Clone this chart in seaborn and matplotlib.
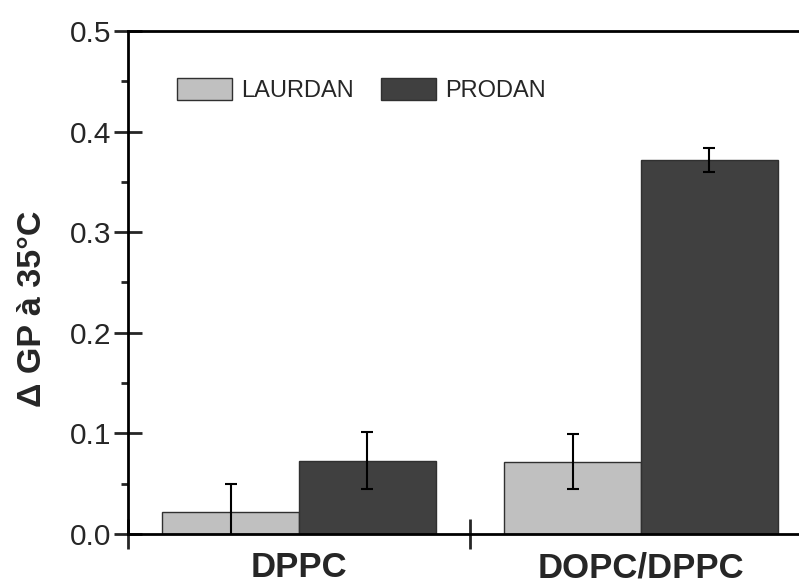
import matplotlib
matplotlib.use("Agg")
import matplotlib.pyplot as plt
import seaborn as sns
import pandas as pd
import numpy as np
from matplotlib.ticker import MultipleLocator

categories = ["DPPC", "DOPC/DPPC"]
probes = ["LAURDAN", "PRODAN"]
laurdan_vals = [0.022, 0.072]
laurdan_err = [0.028, 0.027]
prodan_vals = [0.073, 0.372]
prodan_err = [0.028, 0.012]

sns.set_theme(style="ticks")
plt.rcParams['font.family'] = ['Liberation Sans', 'DejaVu Sans']

df = pd.DataFrame({
    "cat": categories * 2,
    "probe": [probes[0]] * 2 + [probes[1]] * 2,
    "val": laurdan_vals + prodan_vals,
})
errs = laurdan_err + prodan_err

fig = plt.figure(figsize=(7.99, 5.83), dpi=100)
ax = fig.add_axes([128 / 799, 1 - 534 / 583, 684 / 799, 503 / 583])

sns.barplot(data=df, x="cat", y="val", hue="probe", order=categories,
            hue_order=probes, palette={"LAURDAN": "#c0c0c0", "PRODAN": "#404040"},
            width=0.8, errorbar=None, edgecolor="#303030", linewidth=1.0,
            saturation=1, ax=ax)

# error bars at bar centres (patches in hue order, then category order)
bars = list(ax.patches)[:4]
for p, v, e in zip(bars, df["val"], errs):
    cx = p.get_x() + p.get_width() / 2
    ax.errorbar(cx, v, yerr=e, fmt="none", ecolor="black", elinewidth=1.5,
                capsize=4.5, capthick=1.5, zorder=5, clip_on=True)

ax.set_xlim(-0.5, 1.5)
ax.set_ylim(0, 0.5)
ax.yaxis.set_minor_locator(MultipleLocator(0.05))
ax.set_yticks([0.0, 0.1, 0.2, 0.3, 0.4, 0.5])
ax.set_yticklabels(["0.0", "0.1", "0.2", "0.3", "0.4", "0.5"])

ax.set_xticks([0, 1])
ax.set_xticklabels(categories, fontsize=25, fontweight="bold")
ax.set_xticks([-0.5, 0.5, 1.5], minor=True)
ax.tick_params(axis="x", which="major", length=0, pad=12.5)
ax.tick_params(axis="x", which="minor", direction="inout", length=22, width=2)
ax.tick_params(axis="y", which="major", direction="inout", length=20, width=2,
               labelsize=21.5, pad=2)
ax.tick_params(axis="y", which="minor", direction="out", length=5, width=2)

for s in ax.spines.values():
    s.set_linewidth(2)
    s.set_color("black")

ax.set_xlabel("")
ax.set_ylabel("\u0394 GP à 35°C", fontsize=24.5, fontweight="bold")
ax.yaxis.set_label_coords(-0.117, 0.447)

leg = ax.legend(loc="upper left", bbox_to_anchor=(0.072, 0.906), ncol=2,
                frameon=False, fontsize=17, handlelength=2.33, handleheight=1.06,
                handletextpad=0.38, columnspacing=1.15, borderpad=0,
                borderaxespad=0)
for h in leg.legend_handles:
    h.set_edgecolor("#303030")
    h.set_linewidth(1.0)

fig.savefig("out.png", dpi=100)
